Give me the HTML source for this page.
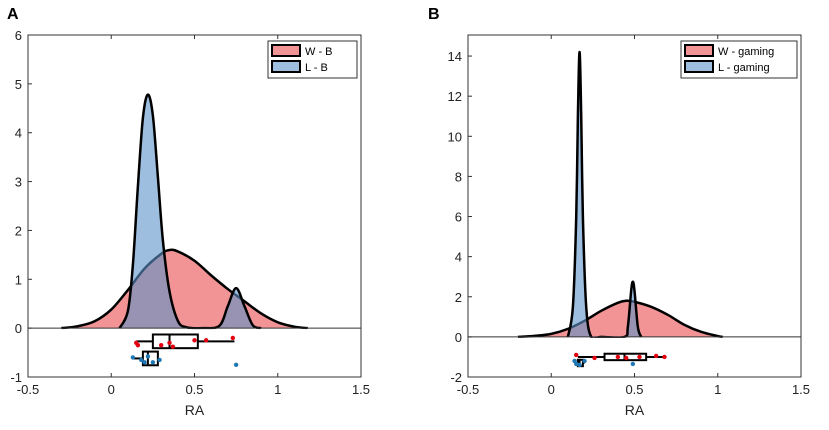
<!DOCTYPE html>
<html><head><meta charset="utf-8"><style>
body{margin:0;background:#fff;font-family:"Liberation Sans",Arial,sans-serif}
svg text{font-family:"Liberation Sans",Arial,sans-serif}
</style></head><body>
<svg id="c" width="829" height="425"></svg>
<script>
// Panel A data
const aRedX=[-0.3,-0.2,-0.1,0,0.1,0.2,0.3,0.35,0.4,0.5,0.6,0.7,0.8,0.9,1.0,1.1,1.18];
const aRedY=[0,0.04,0.14,0.38,0.78,1.22,1.52,1.6,1.57,1.38,1.08,0.8,0.55,0.3,0.12,0.03,0];
const aBlueX=[0.05,0.1,0.13,0.16,0.19,0.22,0.25,0.28,0.31,0.35,0.4,0.45,0.55,0.65,0.7,0.75,0.8,0.85,0.9];
const aBlueY=[0,0.35,1.3,2.9,4.3,4.78,4.35,3.1,1.8,0.75,0.15,0.02,0,0.05,0.45,0.82,0.45,0.06,0];
const aRedBox=[0.15,0.25,0.35,0.52,0.74];
const aBlueBox=[0.13,0.19,0.22,0.28,0.28];
const aRedPtsX=[0.15,0.16,0.3,0.35,0.37,0.5,0.57,0.73];
const aRedPtsY=[-0.3,-0.35,-0.35,-0.3,-0.38,-0.25,-0.25,-0.2];
const aBluePtsX=[0.13,0.18,0.2,0.22,0.25,0.29,0.75];
const aBluePtsY=[-0.6,-0.65,-0.7,-0.58,-0.7,-0.65,-0.75];
// Panel B data
const bRedX=[-0.2,-0.1,0,0.1,0.2,0.3,0.4,0.45,0.5,0.6,0.7,0.8,0.9,1.0,1.03];
const bRedY=[0,0.05,0.15,0.4,0.8,1.3,1.7,1.8,1.75,1.5,1.1,0.6,0.25,0.04,0];
const bBlueX=[0.1,0.13,0.15,0.16,0.17,0.18,0.19,0.21,0.24,0.3,0.44,0.46,0.48,0.49,0.5,0.52,0.54];
const bBlueY=[0,1.5,6,11,14.2,11,6,1.5,0,0,0,0.5,2.3,2.75,2.3,0.5,0];
const bRedBox=[0.16,0.32,0.44,0.57,0.68];
const bBlueBox=[0.15,0.16,0.17,0.19,0.2];
const bRedPtsX=[0.15,0.26,0.4,0.45,0.53,0.63,0.68];
const bRedPtsY=[-0.9,-1.05,-1,-1.05,-1,-0.95,-1];
const bBluePtsX=[0.14,0.15,0.17,0.2,0.49];
const bBluePtsY=[-1.2,-1.35,-1.4,-1.2,-1.35];
const xTicks=[-0.5,0,0.5,1,1.5];
const aYTicks=[-1,0,1,2,3,4,5,6];
const bYTicks=[-2,0,2,4,6,8,10,12,14];

const NS="http://www.w3.org/2000/svg", svg=document.getElementById('c');
function mk(t,a,p){const e=document.createElementNS(NS,t);for(const k in a)e.setAttribute(k,a[k]);(p||svg).appendChild(e);return e;}
function smooth(pts){let d='M'+pts[0][0]+','+pts[0][1];
 for(let i=0;i<pts.length-1;i++){const p0=pts[Math.max(0,i-1)],p1=pts[i],p2=pts[i+1],p3=pts[Math.min(pts.length-1,i+2)];
  const c1=[p1[0]+(p2[0]-p0[0])/6,p1[1]+(p2[1]-p0[1])/6],c2=[p2[0]-(p3[0]-p1[0])/6,p2[1]-(p3[1]-p1[1])/6];
  d+='C'+c1[0]+','+c1[1]+' '+c2[0]+','+c2[1]+' '+p2[0]+','+p2[1];}
 return d;}
const defs=mk('defs',{});
function panel(o){
 const g=mk('g',{});
 
 
 const X=v=>o.x0+(v+0.5)/2*(o.x1-o.x0), Y=v=>o.y1-(v-o.ymin)/(o.ymax-o.ymin)*(o.y1-o.y0);
 const cp=mk('clipPath',{id:o.name+'-clip'},defs);
 mk('rect',{x:o.x0,y:o.y0-5,width:o.x1-o.x0,height:Y(0)-o.y0+6},cp);
 const cg=mk('g',{'clip-path':'url(#'+o.name+'-clip)'},g);
 
 
 function area(xs,ys,fill,nm){const pts=xs.map((x,i)=>[X(x),Math.min(Y(0),Y(ys[i]))]);
  const l=smooth(pts);
  const p=mk('path',{d:l+'Z',fill:fill,'fill-opacity':0.6,stroke:'none'},cg);
  
  
  const q=mk('path',{d:l,fill:'none',stroke:'#000','stroke-width':2.5,'stroke-linejoin':'round'},cg);
  
  }
 area(o.rx,o.ry,'#ea4b4f','density-w');
 area(o.bx,o.by,'#5b93c8','density-l');
 const z=mk('line',{x1:o.x0,x2:o.x1,y1:Y(0),y2:Y(0),stroke:'#333','stroke-width':1},g);
 
 
 function box(b,yc,h,nm){const gg=mk('g',{},g);
  
  
  mk('line',{x1:X(b[0]),x2:X(b[1]),y1:Y(yc),y2:Y(yc),stroke:'#000','stroke-width':2},gg);
  mk('line',{x1:X(b[3]),x2:X(b[4]),y1:Y(yc),y2:Y(yc),stroke:'#000','stroke-width':2},gg);
  mk('rect',{x:X(b[1]),y:Y(yc+h/2),width:Math.max(1,X(b[3])-X(b[1])),height:Y(yc-h/2)-Y(yc+h/2),fill:'none',stroke:'#000','stroke-width':2},gg);
  mk('line',{x1:X(b[2]),x2:X(b[2]),y1:Y(yc+h/2),y2:Y(yc-h/2),stroke:'#000','stroke-width':2},gg);}
 box(o.rb,o.ryc,o.bh,'box-w'); box(o.bb,o.byc,o.bh,'box-l');
 o.rpx.forEach((x,i)=>{const c=mk('circle',{cx:X(x),cy:Y(o.rpy[i]),r:2.2,fill:'#e3000f'},g);
  
  });
 o.bpx.forEach((x,i)=>{const c=mk('circle',{cx:X(x),cy:Y(o.bpy[i]),r:2.2,fill:'#1f77b4'},g);
  
  });
 const fr=mk('rect',{x:o.x0,y:o.y0,width:o.x1-o.x0,height:o.y1-o.y0,fill:'none',stroke:'#333','stroke-width':1},g);
 
 
 xTicks.forEach(v=>{mk('line',{x1:X(v),x2:X(v),y1:o.y1,y2:o.y1-4,stroke:'#333'},g);
  mk('line',{x1:X(v),x2:X(v),y1:o.y0,y2:o.y0+4,stroke:'#333'},g);
  const t=mk('text',{x:X(v),y:o.y1+17,'font-size':13,'text-anchor':'middle',fill:'#222'},g);t.textContent=v;
  
  });
 o.yt.forEach(v=>{mk('line',{x1:o.x0,x2:o.x0+4,y1:Y(v),y2:Y(v),stroke:'#333'},g);
  const t=mk('text',{x:o.x0-6,y:Y(v)+5,'font-size':13,'text-anchor':'end',fill:'#222'},g);t.textContent=v;
  
  });
 const xl=mk('text',{x:(o.x0+o.x1)/2,y:o.y1+38,'font-size':14,'text-anchor':'middle',fill:'#222'},g);xl.textContent='RA';
 
 
 const pl=mk('text',{x:o.lx,y:19,'font-size':16,'font-weight':'bold',fill:'#000'},g);pl.textContent=o.label;
 
 
 const lg=mk('g',{},g);
 
 
 mk('rect',{x:o.legX,y:41,width:o.legW,height:37,fill:'#fff',stroke:'#333'},lg);
 [[o.l1,'#ea4b4f'],[o.l2,'#5b93c8']].forEach((e,i)=>{
  mk('rect',{x:o.legX+4,y:45+i*16,width:28,height:11,fill:e[1],'fill-opacity':0.6,stroke:'#000','stroke-width':2},lg);
  const t=mk('text',{x:o.legX+37,y:55+i*16,'font-size':11,fill:'#000'},lg);t.textContent=e[0];
  
  });
}
panel({name:'panel-a',x0:28,x1:361,y0:35,y1:377,ymin:-1,ymax:6,rx:aRedX,ry:aRedY,bx:aBlueX,by:aBlueY,rb:aRedBox,bb:aBlueBox,ryc:-0.27,byc:-0.62,bh:0.28,rpx:aRedPtsX,rpy:aRedPtsY,bpx:aBluePtsX,bpy:aBluePtsY,yt:aYTicks,label:'A',lx:7,legX:268,legW:89,l1:'W - B',l2:'L - B'});
panel({name:'panel-b',x0:468,x1:801,y0:35,y1:377,ymin:-2,ymax:15.05,rx:bRedX,ry:bRedY,bx:bBlueX,by:bBlueY,rb:bRedBox,bb:bBlueBox,ryc:-1.0,byc:-1.3,bh:0.32,rpx:bRedPtsX,rpy:bRedPtsY,bpx:bBluePtsX,bpy:bBluePtsY,yt:bYTicks,label:'B',lx:428,legX:681,legW:116,l1:'W - gaming',l2:'L - gaming'});
</script>
</body></html>
